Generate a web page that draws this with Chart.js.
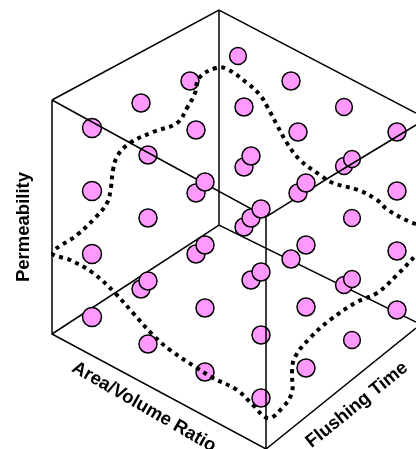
<!DOCTYPE html>
<html lang="en">
<head>
  <meta charset="UTF-8" />
  <title>Permeability design space</title>
  <script src="https://cdn.jsdelivr.net/npm/chart.js"></script>
  <style>
    html, body { margin: 0; padding: 0; background: #fff; overflow: hidden; }
    canvas { display: block; }
  </style>
</head>
<body>
<canvas id="cubeChart" width="416" height="449"></canvas>
<script>
const pointX = [238, 291, 190, 141, 244, 344, 92, 196, 298, 397, 148, 244, 251, 344, 352, 298, 306, 196, 205, 92, 397, 148, 352, 244, 251, 261, 196, 205, 306, 397, 291, 92, 251, 261, 344, 352, 141, 148, 205, 306, 397, 92, 261, 352, 148, 306, 205, 261];
const pointY = [56, 81, 81, 103, 107, 107, 128, 130, 132, 132, 155, 167, 156, 166, 159, 193, 183, 193, 182, 191, 191, 218, 218, 227, 218, 209, 254, 245, 245, 251, 259, 254, 280, 272, 285, 279, 289, 281, 308, 307, 310, 317, 335, 340, 344, 368, 372, 398];

// edges behind the circles
const backEdgesX = [219, 219, NaN, 52, 219, 416, NaN, 52, 219, 416, NaN, 52, 52, 266, 416, NaN, 165, 266, 330, NaN, 266, 266];
const backEdgesY = [10, 225, NaN, 100, 10, 113, NaN, 334, 225, 322, NaN, 100, 334, 449, 328, NaN, 162, 217, 177, NaN, 217, 295];
// the parts of the edges that run over the circles
const frontEdgesX = [52, 165, NaN, 330, 416, NaN, 266, 266];
const frontEdgesY = [100, 162, NaN, 177, 125, NaN, 295, 449];

const curveX = [416, 410, 388, 377, 358, 333, 320, 300, 287, 277, 268, 260, 247, 227, 216, 199, 195, 187, 177, 153, 130, 118, 113, 111, 107, 95, 77, 53, 70, 93, 115, 133, 153, 170, 197, 213, 237, 253, 268, 283, 292, 292, 295, 310, 330, 357, 377, 397, 416];
const curveY = [224, 222, 210, 200, 190, 183, 175, 160, 143, 125, 108, 95, 83, 69, 68, 78, 93, 108, 123, 132, 143, 155, 170, 187, 203, 218, 235, 253, 260, 273, 293, 313, 335, 350, 368, 378, 390, 405, 418, 407, 392, 372, 357, 338, 320, 302, 293, 275, 255];

const toPoints = (xs, ys) => xs.map((x, i) => ({ x: x, y: ys[i] }));

// circles are a bit bigger towards the left of the cube
const circleRadius = ctx => {
  const x = ctx.raw.x;
  if (x < 100) return 9.5;
  if (x === 238 || x === 344 || x === 352) return 8.4;
  return 9;
};

const axisLabels = {
  id: 'axisLabels',
  afterDraw(chart) {
    const ctx = chart.ctx;
    const put = (text, x, y, deg) => {
      ctx.save();
      ctx.translate(x, y);
      ctx.rotate(deg * Math.PI / 180);
      ctx.font = 'bold 18.5px "Liberation Sans", Arial, sans-serif';
      ctx.fillStyle = '#000';
      ctx.textAlign = 'center';
      ctx.textBaseline = 'middle';
      ctx.fillText(text, 0, 0);
      ctx.restore();
    };
    put('Permeability', 24, 227, -90);
    put('Area/Volume Ratio', 144, 407, 30);
    put('Flushing Time', 357, 405, -39);
  }
};

new Chart(document.getElementById('cubeChart').getContext('2d'), {
  type: 'scatter',
  data: {
    datasets: [
      { type: 'line', data: toPoints(backEdgesX, backEdgesY), borderColor: '#000', borderWidth: 1.5, pointRadius: 0, spanGaps: false, order: 4 },
      { data: toPoints(pointX, pointY), backgroundColor: '#ff99ff', borderColor: '#000', borderWidth: 1.5, pointRadius: circleRadius, order: 3 },
      { type: 'line', data: toPoints(frontEdgesX, frontEdgesY), borderColor: '#000', borderWidth: 1.5, pointRadius: 0, spanGaps: false, order: 2 },
      { type: 'line', data: toPoints(curveX, curveY), borderColor: '#000', borderWidth: 4, borderDash: [4, 4.5], pointRadius: 0, tension: 0.4, order: 1 }
    ]
  },
  options: {
    responsive: false,
    animation: false,
    layout: { padding: 0, autoPadding: false },
    plugins: { legend: { display: false }, tooltip: { enabled: false } },
    scales: {
      x: { type: 'linear', display: false, min: 0, max: 416 },
      y: { type: 'linear', display: false, min: 0, max: 449, reverse: true }
    }
  },
  plugins: [axisLabels]
});
</script>
</body>
</html>
